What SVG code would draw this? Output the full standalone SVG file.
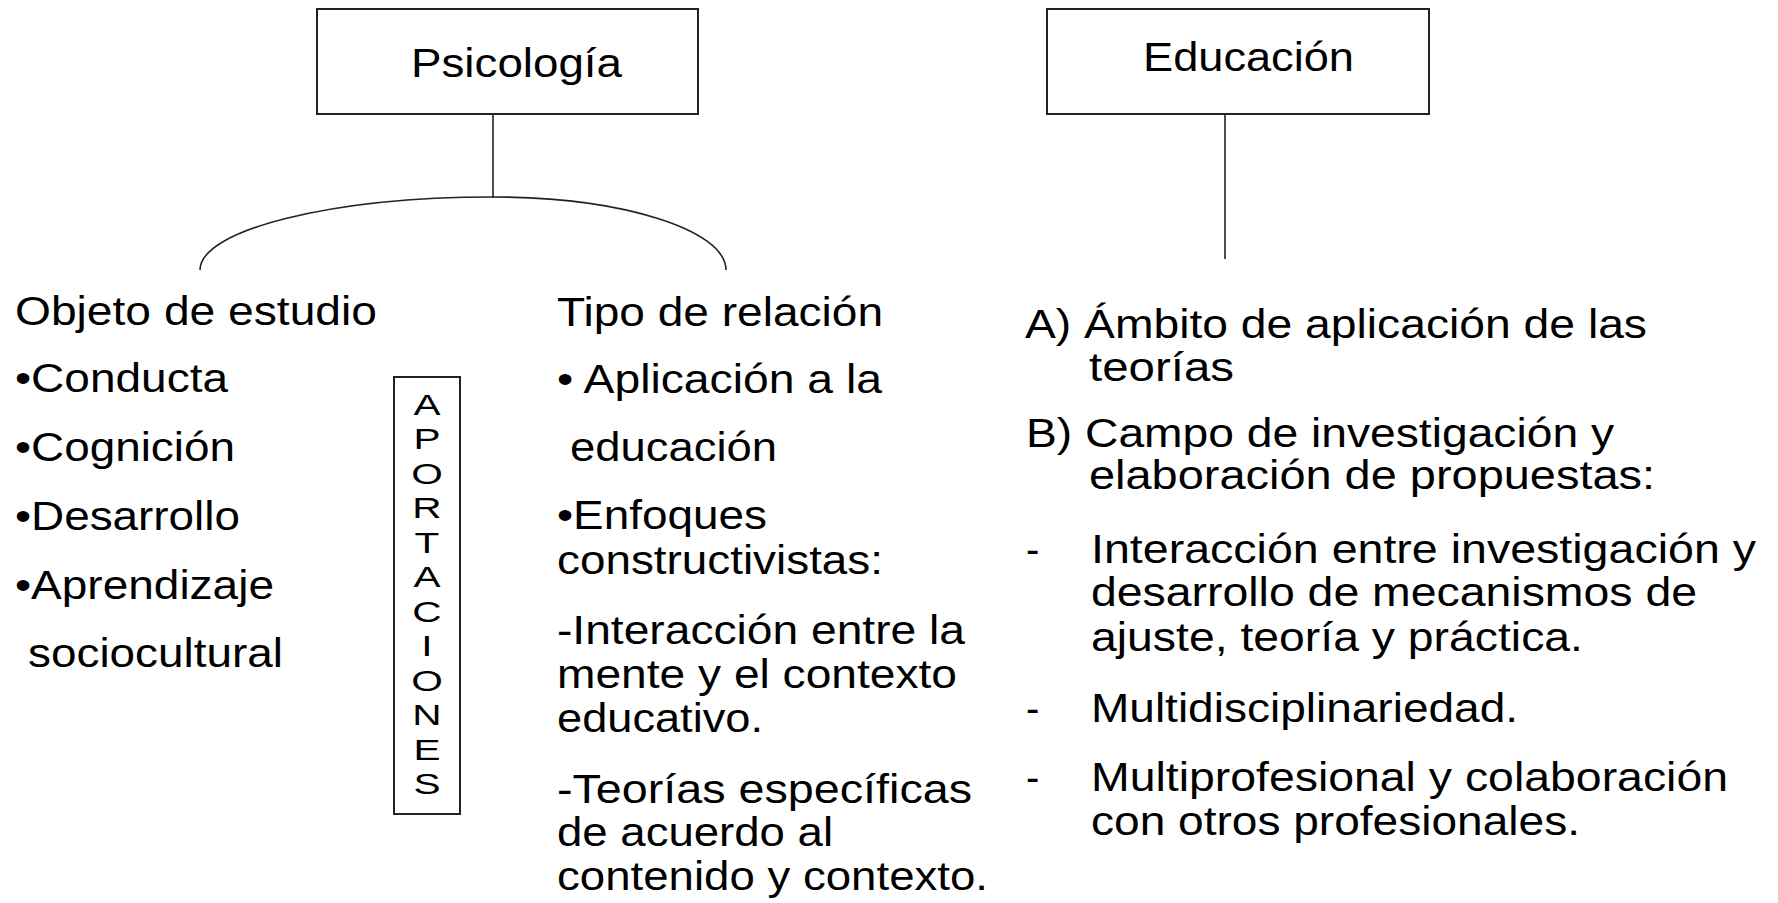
<svg xmlns="http://www.w3.org/2000/svg" width="1778" height="903" viewBox="0 0 1778 903">
<style>
.box{fill:#fff;stroke:#222;stroke-width:2}
.ln{fill:none;stroke:#222;stroke-width:1.6}
text{font-family:"Liberation Sans",Arial,sans-serif;fill:#000}
.h{font-size:40px}
.t{font-size:40px}
.v{font-size:29px;text-anchor:middle}
</style>
<rect width="1778" height="903" fill="#fff"/>
<g id="connectors">
<line class="ln" x1="493" y1="114" x2="493" y2="198"/>
<path class="ln" d="M200,270 C200,230 331,197 493,197 C622,197 726,230 726,270"/>
<line class="ln" x1="1225" y1="114" x2="1225" y2="259"/>
</g>
<g id="psicologia">
<rect class="box" x="317" y="9" width="381" height="105"/>
<text class="h" x="411" y="77" textLength="211" lengthAdjust="spacingAndGlyphs">Psicología</text>
</g>
<g id="educacion">
<rect class="box" x="1047" y="9" width="382" height="105"/>
<text class="h" x="1143" y="71" textLength="211" lengthAdjust="spacingAndGlyphs">Educación</text>
</g>
<g id="objeto">
<text class="t" x="15" y="325" textLength="362" lengthAdjust="spacingAndGlyphs">Objeto de estudio</text>
<text class="t" x="15" y="392" textLength="213" lengthAdjust="spacingAndGlyphs">•Conducta</text>
<text class="t" x="15" y="461" textLength="220" lengthAdjust="spacingAndGlyphs">•Cognición</text>
<text class="t" x="15" y="530" textLength="225" lengthAdjust="spacingAndGlyphs">•Desarrollo</text>
<text class="t" x="15" y="599" textLength="259" lengthAdjust="spacingAndGlyphs">•Aprendizaje</text>
<text class="t" x="28" y="667" textLength="255" lengthAdjust="spacingAndGlyphs">sociocultural</text>
</g>
<g id="aportaciones">
<rect class="box" x="394" y="377" width="66" height="437"/>
<g transform="translate(427,0) scale(1.4,1)">
<text class="v" x="0" y="415">A</text>
<text class="v" x="0" y="449.5">P</text>
<text class="v" x="0" y="484">O</text>
<text class="v" x="0" y="518.5">R</text>
<text class="v" x="0" y="553">T</text>
<text class="v" x="0" y="587.5">A</text>
<text class="v" x="0" y="622">C</text>
<text class="v" x="0" y="656.5">I</text>
<text class="v" x="0" y="691">O</text>
<text class="v" x="0" y="725.5">N</text>
<text class="v" x="0" y="760">E</text>
<text class="v" x="0" y="794.5">S</text>
</g>
</g>
<g id="tipo">
<text class="t" x="557" y="326" textLength="326" lengthAdjust="spacingAndGlyphs">Tipo de relación</text>
<text class="t" x="557" y="393" textLength="325" lengthAdjust="spacingAndGlyphs">• Aplicación a la</text>
<text class="t" x="570" y="461" textLength="207" lengthAdjust="spacingAndGlyphs">educación</text>
<text class="t" x="557" y="529" textLength="210" lengthAdjust="spacingAndGlyphs">•Enfoques</text>
<text class="t" x="557" y="574" textLength="326" lengthAdjust="spacingAndGlyphs">constructivistas:</text>
<text class="t" x="557" y="644" textLength="408" lengthAdjust="spacingAndGlyphs">-Interacción entre la</text>
<text class="t" x="557" y="688" textLength="400" lengthAdjust="spacingAndGlyphs">mente y el contexto</text>
<text class="t" x="557" y="732" textLength="206" lengthAdjust="spacingAndGlyphs">educativo.</text>
<text class="t" x="557" y="803" textLength="415" lengthAdjust="spacingAndGlyphs">-Teorías específicas</text>
<text class="t" x="557" y="846" textLength="276" lengthAdjust="spacingAndGlyphs">de acuerdo al</text>
<text class="t" x="557" y="890" textLength="431" lengthAdjust="spacingAndGlyphs">contenido y contexto.</text>
</g>
<g id="ambito">
<text class="t" x="1025" y="338" textLength="622" lengthAdjust="spacingAndGlyphs">A) Ámbito de aplicación de las</text>
<text class="t" x="1089" y="381" textLength="145" lengthAdjust="spacingAndGlyphs">teorías</text>
<text class="t" x="1026" y="447" textLength="588" lengthAdjust="spacingAndGlyphs">B) Campo de investigación y</text>
<text class="t" x="1089" y="489" textLength="566" lengthAdjust="spacingAndGlyphs">elaboración de propuestas:</text>
<text class="t" x="1026" y="563">-</text>
<text class="t" x="1091" y="563" textLength="665" lengthAdjust="spacingAndGlyphs">Interacción entre investigación y</text>
<text class="t" x="1091" y="606" textLength="606" lengthAdjust="spacingAndGlyphs">desarrollo de mecanismos de</text>
<text class="t" x="1091" y="651" textLength="492" lengthAdjust="spacingAndGlyphs">ajuste, teoría y práctica.</text>
<text class="t" x="1026" y="722">-</text>
<text class="t" x="1091" y="722" textLength="427" lengthAdjust="spacingAndGlyphs">Multidisciplinariedad.</text>
<text class="t" x="1026" y="791">-</text>
<text class="t" x="1091" y="791" textLength="637" lengthAdjust="spacingAndGlyphs">Multiprofesional y colaboración</text>
<text class="t" x="1091" y="835" textLength="489" lengthAdjust="spacingAndGlyphs">con otros profesionales.</text>
</g>
</svg>
